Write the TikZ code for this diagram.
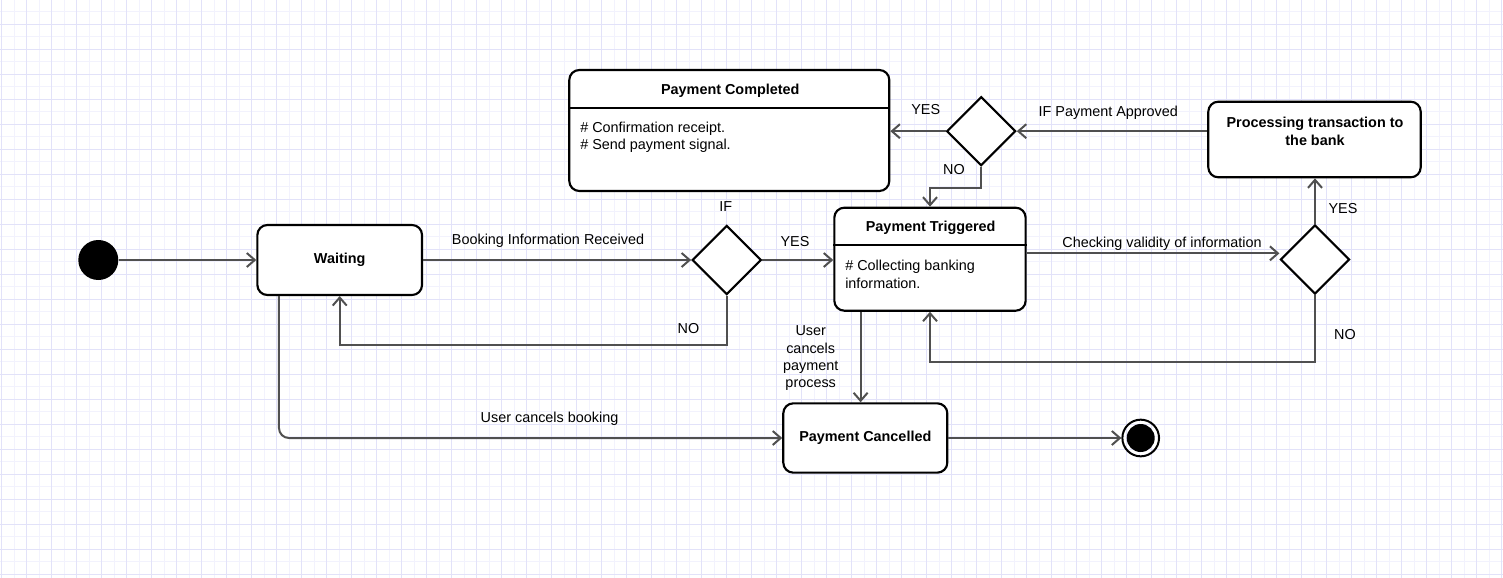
\documentclass[tikz,border=0pt]{standalone}
\usepackage{fontspec}
\setmainfont{Liberation Sans}
\usepackage{tikz}
\usetikzlibrary{shapes.geometric, arrows.meta}
\definecolor{edgegray}{RGB}{80,80,80}
\definecolor{gridminor}{RGB}{242,242,253}
\definecolor{gridmajor}{RGB}{226,226,249}
\newcommand{\diagfont}{\fontsize{10.8}{13}\selectfont}
\tikzstyle{statebox}=[draw, line width=1.6pt, rounded corners=7.5pt, fill=white, font=\diagfont\bfseries, align=center, inner sep=0pt]
\tikzstyle{decision}=[draw, diamond, aspect=1, line width=1.6pt, fill=white, minimum size=51.75pt, inner sep=0pt]
\tikzstyle{flow}=[draw=edgegray, line width=1.5pt, -{Straight Barb[length=6pt,width=10.5pt]}]
\tikzstyle{lbl}=[inner sep=0pt, anchor=base]
\tikzstyle{bodytext}=[inner sep=0pt, anchor=north west, align=left]

\begin{document}
\begin{tikzpicture}[x=0.75pt, y=-0.75pt, font=\diagfont]
    \useasboundingbox (0,0) rectangle (1503,578);
    \fill[white] (0,0) rectangle (1503,578);
    % grid
    \foreach \x in {14.2,39.2,...,1503} \draw[gridminor, line width=0.75pt] (\x,0) -- (\x,578);
    \foreach \y in {11.5,36.5,...,578} \draw[gridminor, line width=0.75pt] (0,\y) -- (1503,\y);
    \foreach \x in {1.7,26.7,...,1503} \draw[gridmajor, line width=0.75pt] (\x,0) -- (\x,578);
    \foreach \y in {24,49,...,578} \draw[gridmajor, line width=0.75pt] (0,\y) -- (1503,\y);

    % states
    \node[circle, fill=black, minimum size=30pt, inner sep=0pt] (init) at (98.3,260) {};
    \node[statebox, minimum width=123.5pt, minimum height=52.5pt] (waiting) at (339.7,260) {Waiting};
    \node[decision] (d1) at (726.7,260) {};
    \node[lbl] (iflbl) at (725.7,211.7) {IF};

    \node[statebox, minimum width=143.5pt, minimum height=77.25pt] (pt) at (930,259.2) {};
    \node[lbl, font=\diagfont\bfseries] (pttitle) at (930.7,231.7) {Payment Triggered};
    \draw[line width=1.6pt] (pt.west |- 0,245.3) -- (pt.east |- 0,245.3);
    \node[bodytext] (ptbody) at (845,260.2) {\# Collecting banking\\information.};

    \node[statebox, minimum width=240pt, minimum height=90.75pt] (pc) at (729.3,130.5) {};
    \node[lbl, font=\diagfont\bfseries] (pctitle) at (730.3,94.7) {Payment Completed};
    \draw[line width=1.6pt] (pc.west |- 0,108.3) -- (pc.east |- 0,108.3);
    \node[bodytext] (pcbody) at (580,121.8) {\# Confirmation receipt.\\\# Send payment signal.};

    \node[decision] (d2) at (981.2,131.2) {};
    \node[statebox, minimum width=159.3pt, minimum height=56.7pt] (proc) at (1314.5,139.5) {};
    \node[inner sep=0pt, anchor=north, align=center, font=\fontsize{10.8}{13.4}\selectfont\bfseries] (proctext) at (1315,116.8) {Processing transaction to\\the bank};

    \node[decision] (d3) at (1315,259.5) {};
    \node[statebox, minimum width=123pt, minimum height=52pt] (cancel) at (865.3,438) {Payment Cancelled};
    \node[circle, draw, line width=1.5pt, minimum size=27.5pt, inner sep=0pt] (final) at (1140.7,438) {};
    \fill (final.center) circle (10.5pt);

    % transitions
    \draw[flow] (init) -- (waiting);
    \draw[flow] (waiting) -- (d1);
    \node[lbl] (bookinglbl) at (548,244.3) {Booking Information Received};
    \draw[flow] (d1.east) -- (pt.west |- d1.east);
    \node[lbl] (yes1) at (795,246) {YES};
    \draw[flow] (d1.south) -- ++(0,49) -| (waiting.south);
    \node[lbl] (no1) at (688.5,333.3) {NO};
    \draw[flow, rounded corners=7.5pt] ([xshift=17pt]waiting.south west) |- (cancel.west);
    \node[lbl] (cancelbooklbl) at (549.5,422.7) {User cancels booking};
    \draw[flow] ([xshift=20.5pt]pt.south west) -- ([xshift=20.5pt]pt.south west |- cancel.north);
    \node[inner sep=0pt, anchor=north, align=center] (cancelpaylbl) at (810.7,325.5) {User\\cancels\\payment\\process};
    \draw[flow] (cancel) -- (final);
    \draw[flow] ([yshift=4.4pt]pt.east) -- ([yshift=4.4pt]pt.east -| d3.west);
    \node[lbl] (checklbl) at (1162,247.7) {Checking validity of information};
    \draw[flow] (d3.north) -- (d3.north |- proc.south);
    \node[lbl] (yes3) at (1343,213.3) {YES};
    \draw[flow] (d3.south) -- ++(0,66.7) -| (pt.south);
    \node[lbl] (no3) at (1345,339.3) {NO};
    \draw[flow] (proc.west |- d2.east) -- (d2.east);
    \node[lbl] (approvedlbl) at (1108.3,116) {IF Payment Approved};
    \draw[flow] (d2.west) -- (d2.west -| pc.east);
    \node[lbl] (yes2) at (925.7,114) {YES};
    \draw[flow] (d2.south) -- ++(0,21) -| (pt.north);
    \node[lbl] (no2) at (954,174) {NO};
\end{tikzpicture}
\end{document}
